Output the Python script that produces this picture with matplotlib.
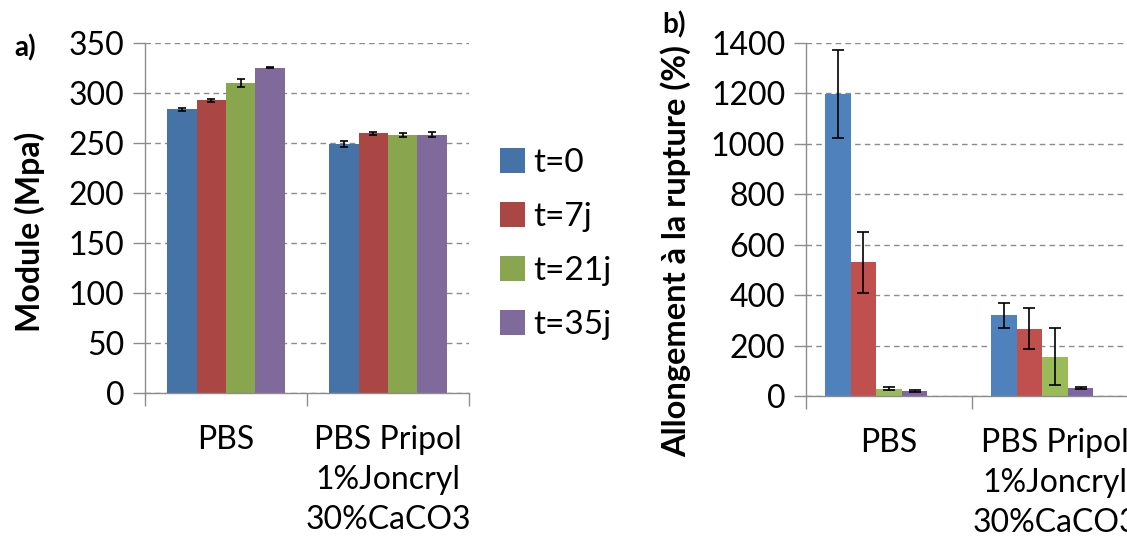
import numpy as np
import matplotlib
matplotlib.use("Agg")
from matplotlib import pyplot as plt
from matplotlib.patches import Patch

plt.rcParams['font.family'] = ['Lato', 'DejaVu Sans']

categories = ["PBS", "PBS Pripol\n1%Joncryl\n30%CaCO3"]
series = ["t=0", "t=7j", "t=21j", "t=35j"]

# a) module (MPa)
module = [[283.8, 249.5],
          [292.7, 259.8],
          [310.4, 258.1],
          [325.4, 258.4]]
module_err = [[1.7, 3.0],
              [1.7, 1.7],
              [4.0, 2.3],
              [0.6, 2.3]]

# b) allongement a la rupture (%)
allong = [[1199, 320],
          [530, 267],
          [28, 156],
          [21, 33]]
allong_err = [[175, 50],
              [120, 82],
              [6, 114],
              [4, 4]]

colors_a = ["#4572A7", "#AA4643", "#89A54E", "#80699B"]
colors_b = ["#4F81BD", "#C0504D", "#9BBB59", "#8064A2"]

W, H = 1127, 538
fig = plt.figure(figsize=(W / 100, H / 100), dpi=100)


def bar_panel(ax, vals, errs, colors, slots, ymax, ystep, capsize, gap=1.5):
    # slots > len(vals) leaves an empty series slot on the right (as in the excel original)
    w = 1.0 / (slots + gap)
    x = np.arange(len(categories))
    for i in range(len(vals)):
        pos = x + (gap / 2 + i + 0.5) * w
        ax.bar(pos, vals[i], width=w, color=colors[i], edgecolor='none', zorder=2)
        ax.errorbar(pos, vals[i], yerr=errs[i], fmt='none', ecolor='black',
                    elinewidth=1.2, capsize=capsize, capthick=1.2, zorder=3)
    ax.set_xlim(0, len(categories))
    ax.set_ylim(0, ymax)
    ax.set_yticks(np.arange(0, ymax + 1, ystep))
    ax.yaxis.grid(True, linestyle=(0, (4, 3)), color='#8c8c8c', linewidth=1.0, zorder=0)
    # category boundaries as ticks, labels centered
    ax.set_xticks(np.arange(len(categories) + 1))
    ax.set_xticklabels([])
    ax.set_xticks(x + 0.5, minor=True)
    ax.set_xticklabels(categories, minor=True, fontsize=23, linespacing=1.42)
    ax.tick_params(axis='x', which='minor', length=0, pad=23)
    ax.tick_params(axis='x', which='major', length=9, color='#8c8c8c', width=1.0)
    ax.tick_params(axis='y', length=9, color='#8c8c8c', width=1.0, labelsize=23, pad=6)
    for s in ['top', 'right']:
        ax.spines[s].set_visible(False)
    for s in ['left', 'bottom']:
        ax.spines[s].set_color('#8c8c8c')
        ax.spines[s].set_linewidth(1.0)
    ax.set_axisbelow(True)


ax1 = fig.add_axes([145 / W, 1 - 393 / H, 324 / W, 350 / H])
bar_panel(ax1, module, module_err, colors_a, 4, 350, 50, 3)
ax1.set_ylabel("Module (Mpa)", fontsize=23, fontweight='bold')
ax1.yaxis.set_label_coords(-0.31, 0.46)

ax2 = fig.add_axes([806 / W, 1 - 396 / H, 332 / W, 353 / H])
bar_panel(ax2, allong, allong_err, colors_b, 5, 1400, 200, 4)
ax2.set_ylabel("Allongement à la rupture (%)", fontsize=23.5, fontweight='bold')
ax2.yaxis.set_label_coords(-0.345, 0.41)

fig.text(14 / W, 1 - 48 / H, "a)", fontsize=20, fontweight='bold', va='center', ha='left')
fig.text(662 / W, 1 - 25 / H, "b)", fontsize=20, fontweight='bold', va='center', ha='left')

handles = [Patch(facecolor=c, edgecolor='none') for c in colors_a]
fig.legend(handles, series, loc='upper left', bbox_to_anchor=(500 / W, 1 - 148 / H),
           frameon=False, fontsize=24, handlelength=0.75, handleheight=0.75,
           handletextpad=0.25, labelspacing=0.72, borderpad=0, borderaxespad=0)

fig.savefig("out.png", dpi=100)
